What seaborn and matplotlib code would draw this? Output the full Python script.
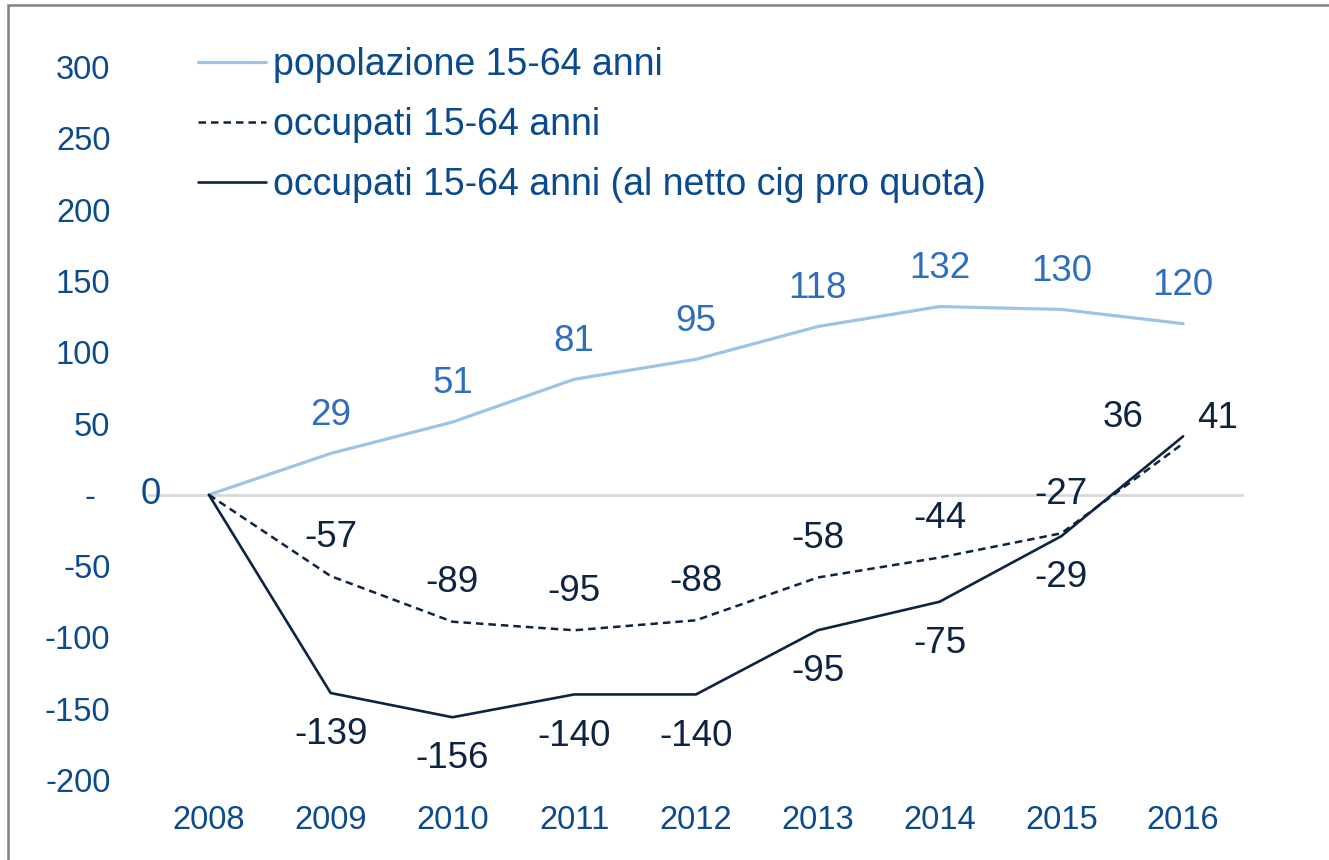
import matplotlib
matplotlib.use("Agg")
import matplotlib.pyplot as plt
import matplotlib.transforms as mtrans
from matplotlib.patches import Rectangle
import seaborn as sns
import pandas as pd

years = ["2008", "2009", "2010", "2011", "2012", "2013", "2014", "2015", "2016"]
popolazione = [0, 29, 51, 81, 95, 118, 132, 130, 120]
occupati = [0, -57, -89, -95, -88, -58, -44, -27, 36]
occupati_netto = [0, -139, -156, -140, -140, -95, -75, -29, 41]
yticks = [-200, -150, -100, -50, 0, 50, 100, 150, 200, 250, 300]
ytick_labels = ["-200", "-150", "-100", "-50", "-", "50", "100", "150", "200", "250", "300"]
series_names = ["popolazione 15-64 anni", "occupati 15-64 anni",
                "occupati 15-64 anni (al netto cig pro quota)"]

sns.set_theme(style="white")
plt.rcParams['font.family'] = ['Liberation Sans', 'DejaVu Sans']

TICK_C = "#0B4A8C"
POP_LINE = "#9DC3E6"
POP_LBL = "#2E6EBD"
DARK = "#0D2341"

fig = plt.figure(figsize=(13.29, 8.6), dpi=100)
ax = fig.add_axes([148/1329, 80/860, 1096/1329, 713/860])

x = list(range(len(years)))
df = pd.DataFrame({"x": x, "pop": popolazione, "occ": occupati, "net": occupati_netto})

ax.axhline(0, color="#D9D9D9", lw=2, zorder=1)
sns.lineplot(data=df, x="x", y="pop", ax=ax, color=POP_LINE, lw=2.3, label=series_names[0], zorder=3)
sns.lineplot(data=df, x="x", y="occ", ax=ax, color=DARK, lw=1.8, linestyle=(0, (3.0, 2.0)),
             label=series_names[1], zorder=3)
sns.lineplot(data=df, x="x", y="net", ax=ax, color=DARK, lw=1.9, label=series_names[2], zorder=3)

ax.set_xlim(-0.5, len(years) - 0.5)
ax.set_ylim(-200, 300)
ax.set_xticks(x)
ax.set_xticklabels(years)
ax.set_yticks(yticks)
ax.set_yticklabels(ytick_labels)
ax.set_xlabel("")
ax.set_ylabel("")
ax.tick_params(axis="both", length=0, labelsize=23.5, labelcolor=TICK_C)
ax.tick_params(axis="y", pad=27)
ax.tick_params(axis="x", pad=18)
for s in ax.spines.values():
    s.set_visible(False)
ax.grid(False)

# shift the "-" zero label left
for lbl in ax.get_yticklabels():
    if lbl.get_text() == "-":
        lbl.set_transform(lbl.get_transform() + mtrans.ScaledTranslation(-15/100, 0, fig.dpi_scale_trans))

LS = 26.5
# population labels (above)
for i, v in enumerate(popolazione):
    if i == 0:
        continue
    ax.annotate(str(v), (i, v), xytext=(0, 27.5), textcoords="offset points",
                ha="center", va="center", fontsize=LS, color=POP_LBL)
# zero label
ax.annotate("0", (0, 0), xytext=(-42, 0), textcoords="offset points",
            ha="center", va="center", fontsize=LS, color=TICK_C)
# occupati labels (above)
for i, v in enumerate(occupati):
    if i == 0:
        continue
    if i == len(occupati) - 1:
        off = (-43, 19)
    else:
        off = (0, 28)
    ax.annotate(str(v), (i, v), xytext=off, textcoords="offset points",
                ha="center", va="center", fontsize=LS, color=DARK)
# occupati netto labels (below)
for i, v in enumerate(occupati_netto):
    if i == 0:
        continue
    if i == len(occupati_netto) - 1:
        off = (25, 12.5)
    else:
        off = (0, -30)
    ax.annotate(str(v), (i, v), xytext=off, textcoords="offset points",
                ha="center", va="center", fontsize=LS, color=DARK)

leg = ax.legend(loc="upper left", bbox_to_anchor=(198/1329, 813/860),
                bbox_transform=fig.transFigure, frameon=False, fontsize=27,
                handlelength=1.8, handletextpad=0.2, labelspacing=0.64,
                borderpad=0, borderaxespad=0)
for t in leg.get_texts():
    t.set_color(TICK_C)

fig.add_artist(Rectangle((8/1329, -0.2), 1.5, (855/860) + 0.2, transform=fig.transFigure,
                         fill=False, edgecolor="#808080", lw=1.8, zorder=10))

fig.savefig("out.png", dpi=100)
